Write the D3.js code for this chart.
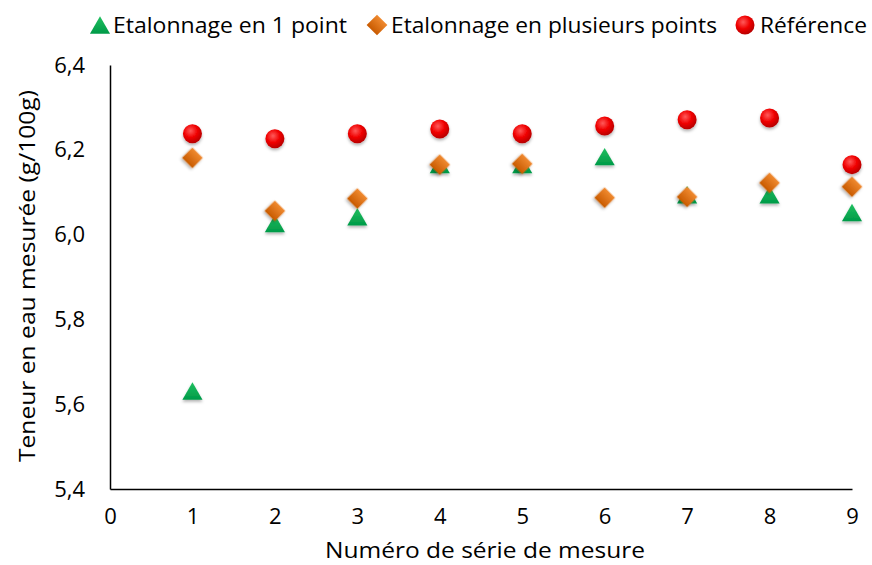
<!DOCTYPE html>
<html><head><meta charset="utf-8">
<script src="https://cdn.jsdelivr.net/npm/d3@7"></script>
<style>body{margin:0;background:#fff}svg{display:block}text{font-family:"Open Sans",Calibri,sans-serif;fill:#000}</style>
</head><body>
<svg id="c" width="872" height="565"></svg>
<script>
const series = [1,2,3,4,5,6,7,8,9];
const unPoint = [5.631,6.026,6.042,6.165,6.165,6.184,6.094,6.094,6.052];
const plusieursPoints = [6.181,6.056,6.085,6.165,6.167,6.087,6.089,6.122,6.113];
const reference = [6.238,6.226,6.238,6.249,6.238,6.256,6.271,6.275,6.165];
const xTicks = [0,1,2,3,4,5,6,7,8,9];
const yTicks = [5.4,5.6,5.8,6.0,6.2,6.4];
const legendLabels = ["Etalonnage en 1 point","Etalonnage en plusieurs points","Référence"];
const xTitle = "Numéro de série de mesure";
const yTitle = "Teneur en eau mesurée (g/100g)";

const svg = d3.select("#c");
const m = {l:110, r:852, t:65, b:489};
const x = d3.scaleLinear().domain([0,9]).range([m.l,m.r]);
const y = d3.scaleLinear().domain([5.4,6.4]).range([m.b,m.t]);
const fmt = d => d3.format(".1f")(d).replace(".",",");

const defs = svg.append("defs");
const rg = defs.append("radialGradient").attr("id","gr").attr("cx","40%").attr("cy","35%").attr("r","65%");
rg.append("stop").attr("offset","0%").attr("stop-color","#ff5a5a");
rg.append("stop").attr("offset","55%").attr("stop-color","#f00000");
rg.append("stop").attr("offset","100%").attr("stop-color","#b80000");
const og = defs.append("linearGradient").attr("id","go").attr("x1","0").attr("y1","0").attr("x2","0").attr("y2","1");
og.append("stop").attr("offset","0%").attr("stop-color","#f08a30");
og.append("stop").attr("offset","100%").attr("stop-color","#c85a00");
const gg = defs.append("linearGradient").attr("id","gg").attr("x1","0").attr("y1","0").attr("x2","0").attr("y2","1");
gg.append("stop").attr("offset","0%").attr("stop-color","#20c060");
gg.append("stop").attr("offset","100%").attr("stop-color","#009a48");
const f = defs.append("filter").attr("id","sh").attr("x","-50%").attr("y","-50%").attr("width","200%").attr("height","200%");
f.append("feDropShadow").attr("dx",0).attr("dy",2).attr("stdDeviation",1.5).attr("flood-color","#000").attr("flood-opacity",0.3);

// axes
const xa = svg.append("g").attr("transform",`translate(0,${m.b})`).call(d3.axisBottom(x).tickValues(xTicks).tickSize(0).tickPadding(27).tickFormat(d3.format("d")));
const ya = svg.append("g").attr("transform",`translate(${m.l},0)`).call(d3.axisLeft(y).tickValues(yTicks).tickSize(0).tickPadding(25).tickFormat(fmt));
[xa,ya].forEach(a=>{a.select(".domain").attr("stroke","#000").attr("stroke-width",1.5);a.selectAll("text").style("font-size","22px").style("font-family","'Open Sans',sans-serif").attr("fill","#000");});
xa.selectAll("text").attr("dy","0.35em");

svg.append("text").attr("x",485).attr("y",550).attr("dy","0.35em").attr("text-anchor","middle").style("font-size","22px")
  .attr("textLength",320).attr("lengthAdjust","spacingAndGlyphs").text(xTitle);
svg.append("text").attr("transform",`translate(27,${276}) rotate(-90)`).attr("dy","0.35em").attr("text-anchor","middle").style("font-size","22px")
  .attr("textLength",372).attr("lengthAdjust","spacingAndGlyphs").text(yTitle);

const tri = d3.symbol().type(d3.symbolTriangle).size(175);
const sq = d3.symbol().type(d3.symbolSquare).size(215);

const g = svg.append("g");
g.selectAll(".t").data(series).join("path").attr("d",tri)
 .attr("transform",(d,i)=>`translate(${x(d)},${y(unPoint[i])+2.9})`).attr("fill","url(#gg)").attr("filter","url(#sh)");
g.selectAll(".d").data(series).join("path").attr("d",sq)
 .attr("transform",(d,i)=>`translate(${x(d)},${y(plusieursPoints[i])}) rotate(45)`).attr("fill","url(#go)").attr("filter","url(#sh)");
g.selectAll(".c").data(series).join("circle").attr("cx",d=>x(d)).attr("cy",(d,i)=>y(reference[i])).attr("r",9.5)
 .attr("fill","url(#gr)").attr("filter","url(#sh)");

// legend
const lg = svg.append("g");
const ly = 25;
const lt = [[113,234],[391,326],[760,107]];
lg.append("path").attr("d",tri).attr("transform",`translate(100,${ly+2.9})`).attr("fill","url(#gg)");
lg.append("path").attr("d",sq).attr("transform",`translate(377,${ly}) rotate(45)`).attr("fill","url(#go)");
lg.append("circle").attr("cx",745).attr("cy",ly).attr("r",9.5).attr("fill","url(#gr)");
legendLabels.forEach((t,i)=>{
  lg.append("text").attr("x",lt[i][0]).attr("y",ly).attr("dy","0.35em").style("font-size","22px")
    .attr("textLength",lt[i][1]).attr("lengthAdjust","spacingAndGlyphs").text(t);
});
</script>
</body></html>
